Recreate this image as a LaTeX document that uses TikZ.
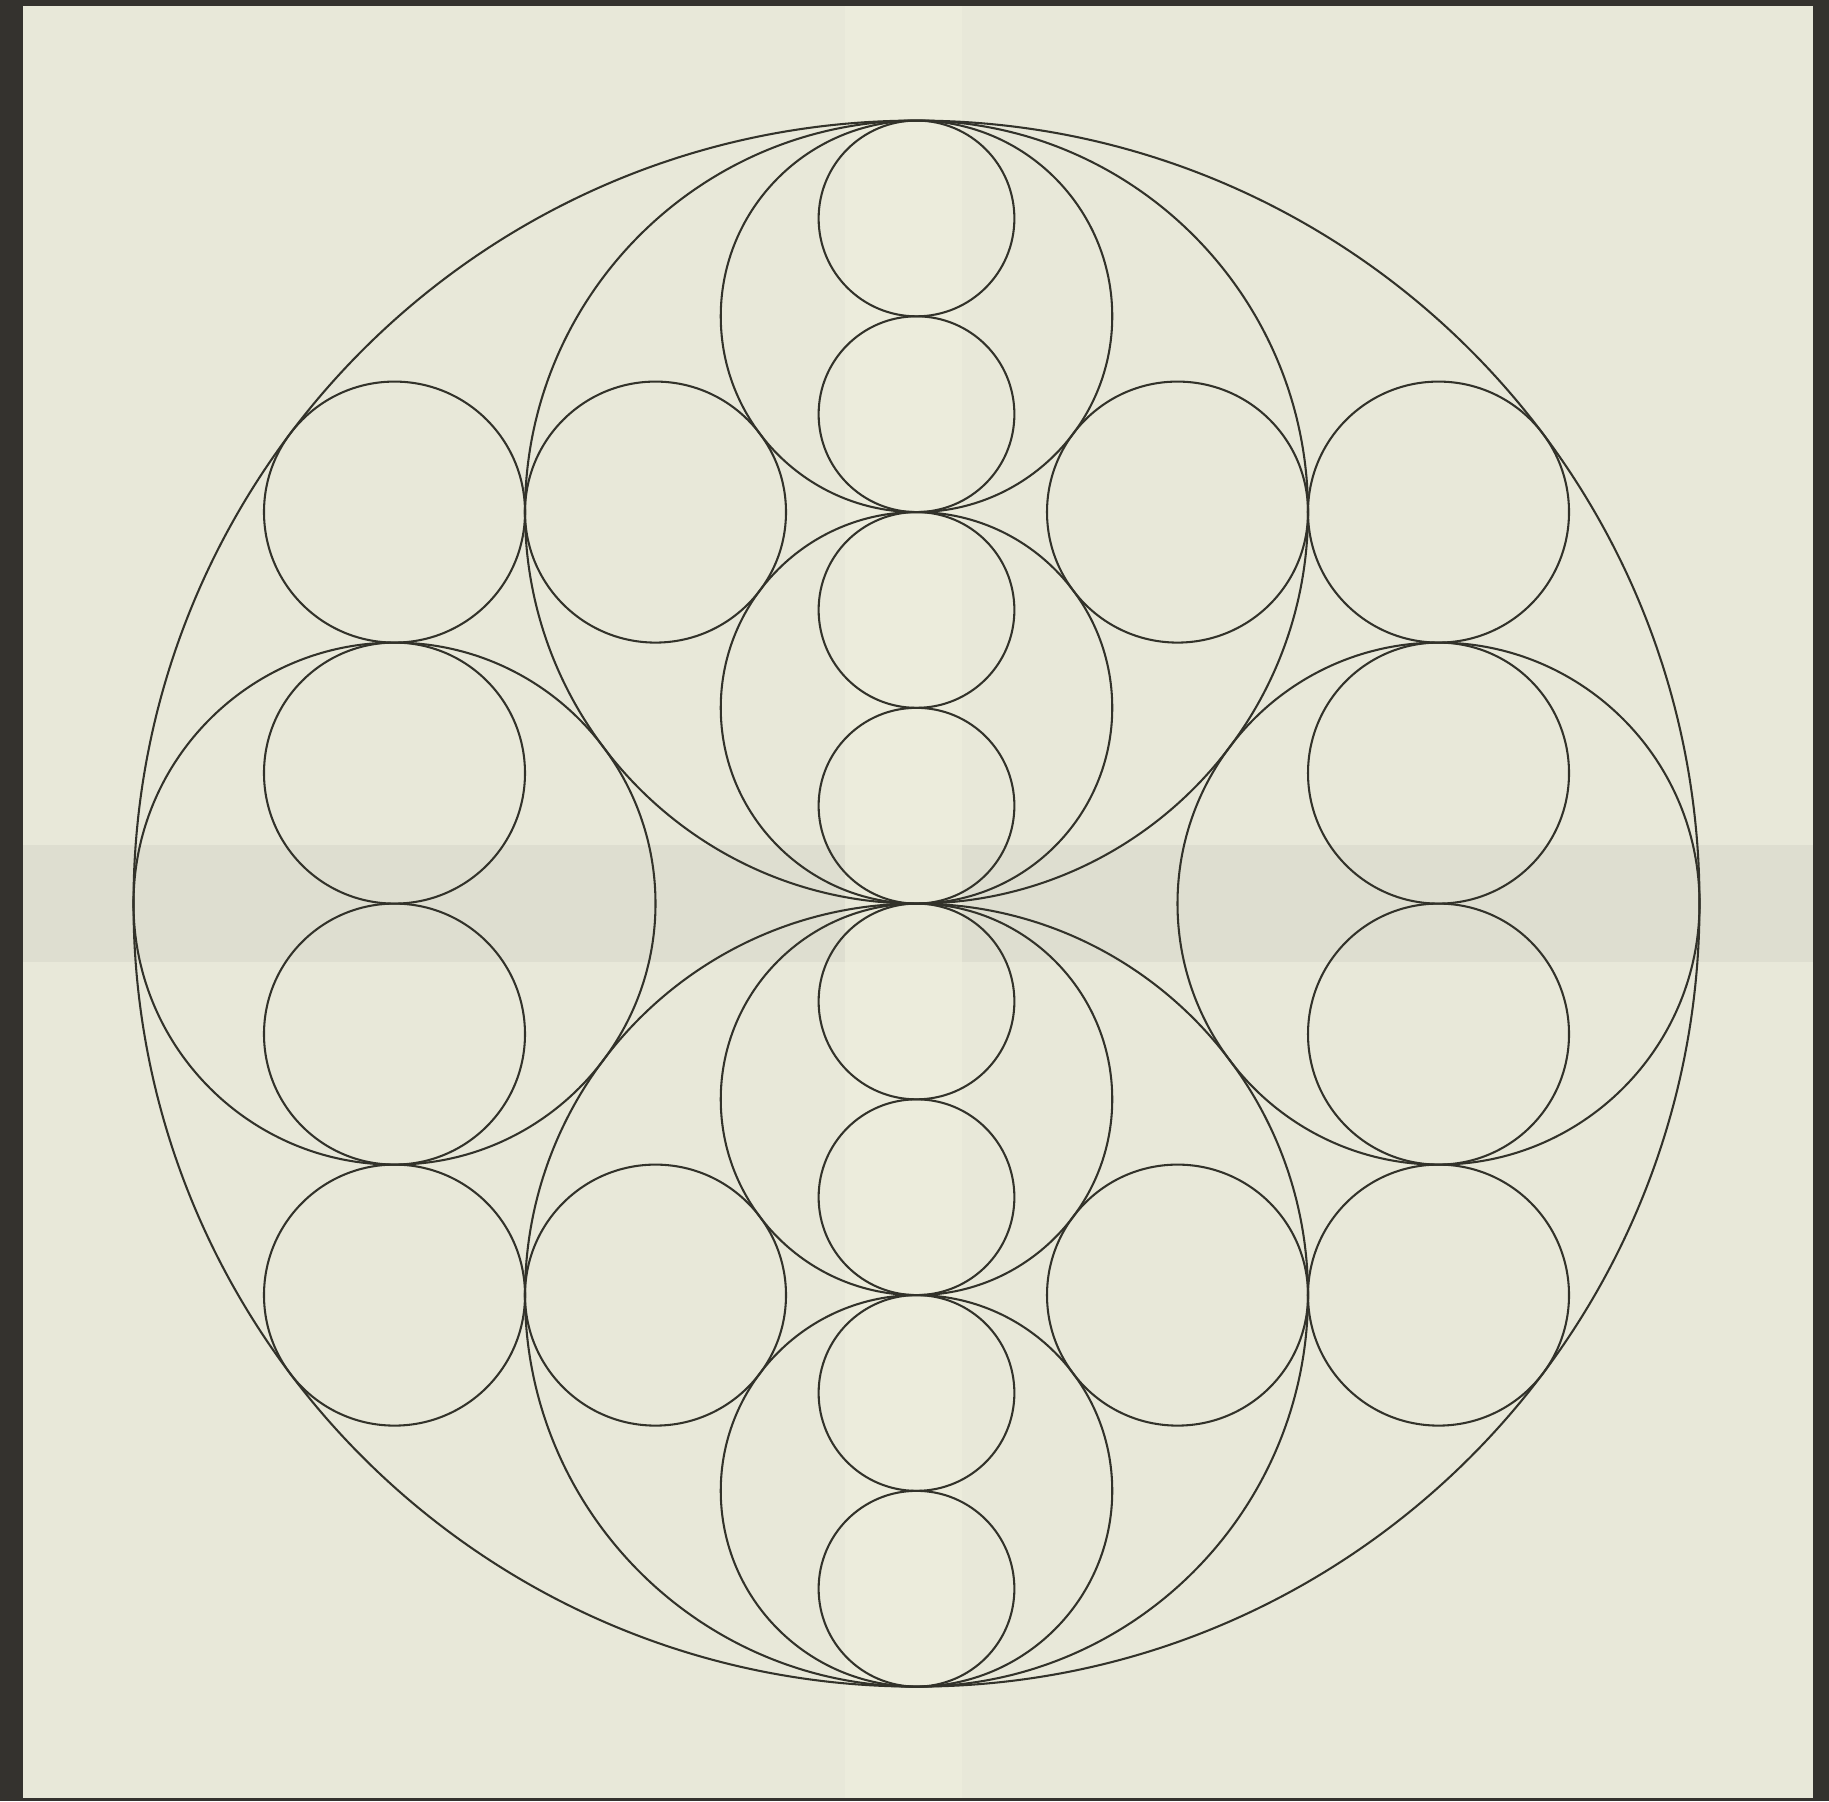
\documentclass[tikz,border=0pt]{standalone}
\usepackage{tikz}

\definecolor{paper}{RGB}{232,232,217}
\definecolor{paperlight}{RGB}{238,238,222}
\definecolor{papergrey}{RGB}{216,216,203}
\definecolor{frame}{RGB}{52,50,46}
\definecolor{ink}{RGB}{50,50,42}

\begin{document}
\begin{tikzpicture}[line width=0.45pt]
        % Paper and frame
        \useasboundingbox (-7.023,-6.877) rectangle (6.992,6.924);
        \fill[paper] (-7.023,-6.877) rectangle (6.992,6.924);
        \fill[papergrey, opacity=0.6] (-7.023,-0.45) rectangle (6.992,0.45);   % grey band
        \fill[paperlight, opacity=0.7] (-0.55,-6.877) rectangle (0.35,6.924);  % light band
        \fill[frame] (-7.023,-6.877) rectangle (-6.85,6.924);                  % left
        \fill[frame] (6.87,-6.877) rectangle (6.992,6.924);                    % right
        \fill[frame] (-7.023,6.88) rectangle (6.992,6.924);                    % top
        \fill[frame] (-7.023,-6.877) rectangle (6.992,-6.855);                 % bottom
        % Outer circle
        \draw[ink] (0,0) circle (6);
        % Half circles: top and bottom
        \draw[ink] (0,3) circle (3);
        \draw[ink] (0,-3) circle (3);
        % Third circles: left and right
        \draw[ink] (-4,0) circle (2);
        \draw[ink] (4,0) circle (2);
        % Quarter circles on the vertical axis
        \draw[ink] (0,4.5) circle (1.5);
        \draw[ink] (0,1.5) circle (1.5);
        \draw[ink] (0,-1.5) circle (1.5);
        \draw[ink] (0,-4.5) circle (1.5);
        % Small column
        \foreach \y in {5.25,3.75,2.25,0.75,-0.75,-2.25,-3.75,-5.25}
          \draw[ink] (0,\y) circle (0.75);
        % Sixth circles: rows at the top and bottom
        \foreach \x in {-4,-2,2,4} {
          \draw[ink] (\x,3) circle (1);
          \draw[ink] (\x,-3) circle (1);
        }
        % Sixth circles inside left and right
        \draw[ink] (-4,1) circle (1);
        \draw[ink] (-4,-1) circle (1);
        \draw[ink] (4,1) circle (1);
        \draw[ink] (4,-1) circle (1);
      \end{tikzpicture}
\end{document}
